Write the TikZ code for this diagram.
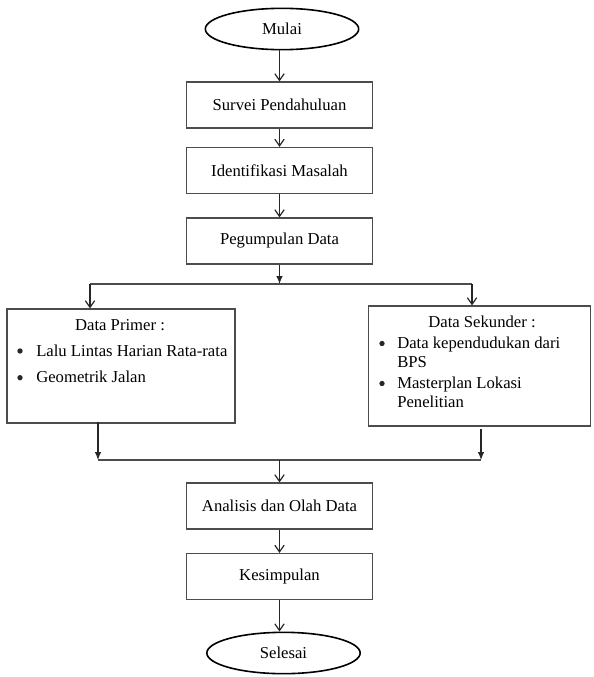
\documentclass[tikz,border=0pt]{standalone}
\usepackage{fontspec}
\setmainfont{Liberation Serif}
\usetikzlibrary{shapes.geometric,arrows.meta}
\begin{document}
\begin{tikzpicture}[x=0.75pt, y=-0.75pt, font=\fontsize{12.5}{15}\selectfont,
  proses/.style={draw=black!70, line width=0.9pt, minimum width=140pt, minimum height=34.5pt, inner sep=0pt},
  terminal/.style={draw=black, ellipse, line width=1.2pt, minimum width=115pt, minimum height=31pt, inner sep=0pt},
  databox/.style={draw=black!70, line width=0.9pt, inner sep=0pt},
  isi/.style={inner sep=0pt},
  titik/.style={circle, fill=black!85, inner sep=0pt, minimum size=4pt},
  garis/.style={draw=black!70, line width=0.9pt},
  panah/.style={garis, draw=black!85, -{Straight Barb[length=5pt,width=7pt]}},
  panahisi/.style={garis, draw=black!85, -{Latex[length=6pt,width=5pt]}}]
\useasboundingbox (0,0) rectangle (593,677);
% alur tengah
\node[terminal] (mulai) at (282,29) {Mulai};
\node[proses] (survei) at (279.5,105) {Survei Pendahuluan};
\node[proses] (ident) at (279.5,170.5) {Identifikasi Masalah};
\node[proses] (kumpul) at (279.5,241) {Pegumpulan Data};
\node[proses] (analisis) at (279.5,506) {Analisis dan Olah Data};
\node[proses] (simpul) at (279.5,576.5) {Kesimpulan};
\node[terminal] (selesai) at (283.5,653) {Selesai};
% kotak data
\node[databox, minimum width=171pt, minimum height=85.5pt] (primer) at (121,366) {};
\node[databox, minimum width=167pt, minimum height=90pt] (sekunder) at (479.5,366) {};
\node[isi, anchor=base] (primerjdl) at (120,330) {Data Primer :};
\foreach \y/\teks [count=\i] in {356/Lalu Lintas Harian Rata-rata, 382.7/Geometrik Jalan} {
  \node[titik] (primerb\i) at (20,\y-5) {};
  \node[isi, anchor=base west] (primert\i) at (36,\y) {\teks};
}
\node[isi, anchor=base] (sekunderjdl) at (482,327) {Data Sekunder :};
\foreach \y [count=\i] in {348,388} {\node[titik] (sekunderb\i) at (382,\y-4.5) {};}
\foreach \y/\teks [count=\i] in {348/Data kependudukan dari, 367/BPS, 388/Masterplan Lokasi, 407/Penelitian} {
  \node[isi, anchor=base west] (sekundert\i) at (397,\y) {\teks};
}
% titik cabang dan gabung
\coordinate (cabang) at (279.5,284);
\coordinate (cabangkiri) at (90,284);
\coordinate (cabangkanan) at (472,284);
\coordinate (gabungkiri) at (98,460);
\coordinate (gabungkanan) at (481,460);
\coordinate (gabung) at (279.5,460);
% panah
\draw[panah] (survei.north |- mulai.south) -- (survei.north);
\draw[panah] (survei) -- (ident);
\draw[panah] (ident) -- (kumpul);
\draw[panahisi] (kumpul) -- (cabang);
\draw[garis] (cabangkiri) -- (cabangkanan);
\draw[panah] (cabangkiri) -- (cabangkiri |- primer.north);
\draw[panah] (cabangkanan) -- (cabangkanan |- sekunder.north);
\draw[panahisi] ([yshift=1.5pt]gabungkiri |- primer.south) -- (gabungkiri);
\draw[panahisi] ([yshift=-2pt]gabungkanan |- sekunder.south) -- (gabungkanan);
\draw[garis] (gabungkiri) -- (gabungkanan);
\draw[panah] (gabung) -- (analisis);
\draw[panah] (analisis) -- (simpul);
\draw[panah] (simpul) -- (simpul |- selesai.north);
\end{tikzpicture}
\end{document}
